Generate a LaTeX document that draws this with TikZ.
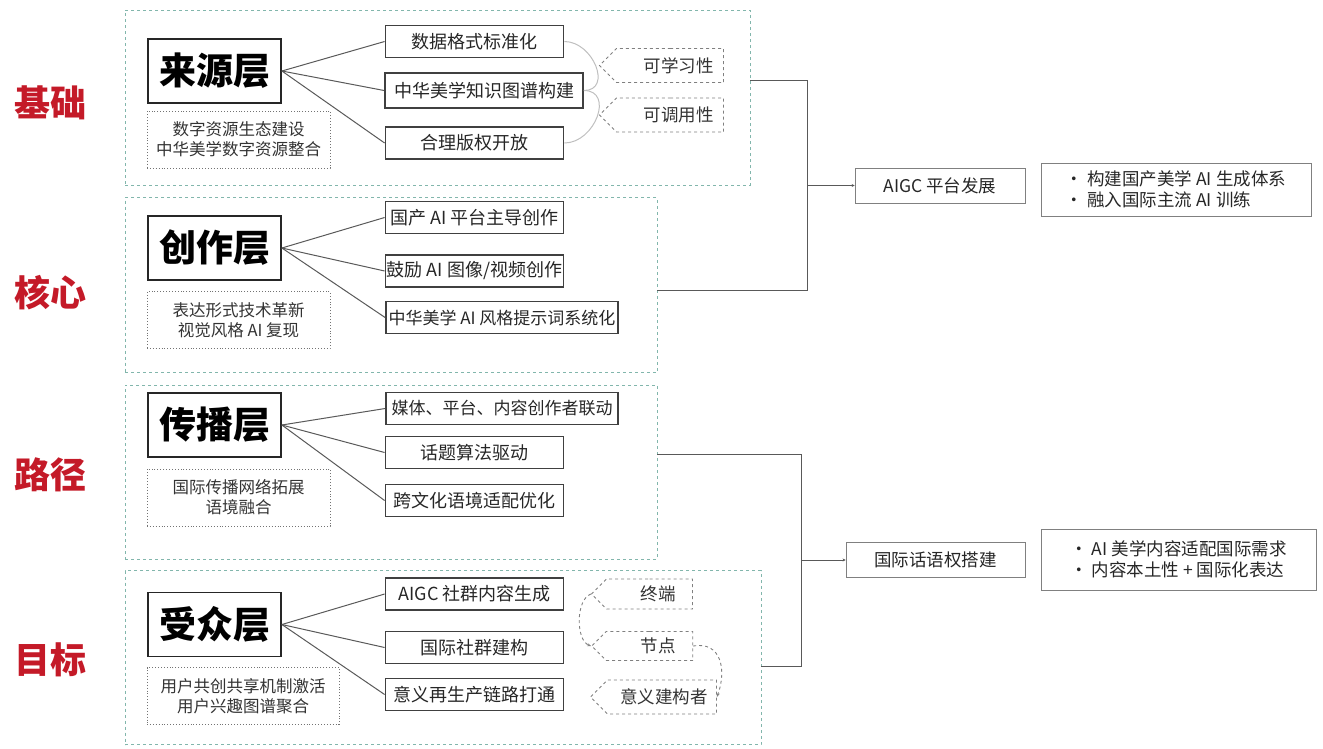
\documentclass[tikz,border=0pt]{standalone}
\usepackage{fontspec}
\setmainfont{Noto Sans CJK SC}
\usetikzlibrary{shapes.symbols,arrows.meta}
\definecolor{labelred}{RGB}{196,26,40}
\definecolor{layerteal}{RGB}{130,182,172}

\begin{document}
\begin{tikzpicture}[x=1pt,y=-1pt,
  layer_node/.style={draw=layerteal,dashed,line width=0.9pt,inner sep=0pt},
  side_node/.style={text=labelred,font=\fontsize{36}{38}\selectfont\bfseries},
  title_node/.style={draw=black!85,line width=1.8pt,minimum width=133,minimum height=64,font=\fontsize{37}{39}\selectfont\bfseries},
  sub_node/.style={draw=black!55,dotted,line width=0.9pt,minimum width=183,minimum height=57,align=center,text=black!80,font=\fontsize{16.5}{20}\selectfont},
  item_node/.style={draw=black!75,line width=1.8pt,minimum width=178,minimum height=32,inner sep=1pt,text=black!85,font=\fontsize{18}{20}\selectfont},
  tag_node/.style={signal,signal to=west,draw=black!50,dashed,line width=0.9pt,minimum height=34,inner sep=2pt,text=black!80,font=\fontsize{17.5}{19}\selectfont},
  res_node/.style={draw=black!50,line width=0.8pt,minimum height=35,align=left,text=black!85,font=\fontsize{17.5}{21}\selectfont},
  link/.style={draw=black!65,line width=1pt},
  arc_line/.style={draw=black!25,line width=1pt}]

\useasboundingbox (0,0) rectangle (1323,748);

\node[side_node] (l1) at (50,103) {基础};
\node[side_node] (l2) at (50,293) {核心};
\node[side_node] (l3) at (50,475) {路径};
\node[side_node] (l4) at (50,660) {目标};

\node[layer_node,minimum width=625,minimum height=175] (c1) at (437.5,97.5) {};
\node[layer_node,minimum width=532,minimum height=175] (c2) at (391,285) {};
\node[layer_node,minimum width=532,minimum height=174] (c3) at (391,472) {};
\node[layer_node,minimum width=636,minimum height=174] (c4) at (443,657.5) {};

\node[title_node] (t1) at (214.5,71) {来源层};
\node[title_node] (t2) at (214.5,248) {创作层};
\node[title_node] (t3) at (214.5,425) {传播层};
\node[title_node] (t4) at (214.5,624.5) {受众层};

\node[sub_node] (s1) at (238.5,139.5) {数字资源生态建设\\中华美学数字资源整合};
\node[sub_node] (s2) at (238.5,320) {表达形式技术革新\\视觉风格 AI 复现};
\node[sub_node] (s3) at (238.5,497.5) {国际传播网络拓展\\语境融合};
\node[sub_node,minimum width=192] (s4) at (243,696) {用户共创共享机制激活\\用户兴趣图谱聚合};

\node[item_node] (i11) at (474.5,41.5) {数据格式标准化};
\node[item_node,minimum width=198,minimum height=35] (i12) at (484,90.5) {中华美学知识图谱构建};
\node[item_node] (i13) at (474.5,143) {合理版权开放};
\node[item_node] (i21) at (474.5,217.5) {国产 AI 平台主导创作};
\node[item_node] (i22) at (474.5,271) {鼓励 AI 图像/视频创作};
\node[item_node,minimum width=232,font=\fontsize{17}{19}\selectfont] (i23) at (502,317.5) {中华美学 AI 风格提示词系统化};
\node[item_node,minimum width=232,font=\fontsize{17}{19}\selectfont] (i31) at (502,408.5) {媒体、平台、内容创作者联动};
\node[item_node] (i32) at (474.5,452.5) {话题算法驱动};
\node[item_node] (i33) at (474.5,500.5) {跨文化语境适配优化};
\node[item_node] (i41) at (474.5,594) {AIGC 社群内容生成};
\node[item_node] (i42) at (474.5,647.5) {国际社群建构};
\node[item_node] (i43) at (474.5,694.5) {意义再生产链路打通};

\node[tag_node,minimum width=124] (g1) at (670,65.5) {\quad 可学习性};
\node[tag_node,minimum width=124] (g2) at (670,115) {\quad 可调用性};
\node[tag_node,minimum width=101,minimum height=30] (g3) at (649.5,594) {\quad 终端};
\node[tag_node,minimum width=101,minimum height=29] (g4) at (649.5,646) {\quad 节点};
\node[tag_node,minimum width=126] (g5) at (662,697) {\ 意义建构者};

\node[res_node,minimum width=170] (r1) at (940,185.5) {AIGC 平台发展};
\node[res_node,minimum width=179] (r2) at (935.5,560) {国际话语权搭建};
\node[res_node,minimum width=270,minimum height=53] (b1) at (1176,189.5) {· 构建国产美学 AI 生成体系\\· 融入国际主流 AI 训练};
\node[res_node,minimum width=275,minimum height=61] (b2) at (1178.5,559.5) {· AI 美学内容适配国际需求\\· 内容本土性 + 国际化表达};

\foreach \t/\i in {t1/i11,t1/i12,t1/i13,t2/i21,t2/i22,t2/i23,t3/i31,t3/i32,t3/i33,t4/i41,t4/i42,t4/i43}
  \draw[link] (\t.east) -- (\i.west);

\draw[arc_line] (i11.east) to[out=0,in=0,looseness=1.4] (i12.east);
\draw[arc_line] (i12.east) to[out=0,in=0,looseness=1.4] (i13.east);
\draw[black!50,dashed,line width=0.9pt,-{Stealth[length=4pt]}] (g3.west) to[out=200,in=160,looseness=0.8] (g4.west);
\draw[black!50,dashed,line width=0.9pt,-{Stealth[length=4pt]}] (g4.east) to[out=10,in=70,looseness=1.3] (g5.east);

\coordinate (j1) at (807,185.5);
\coordinate (j2) at (801,560);
\draw[link] ([yshift=17.5pt]c1.east) -| (j1);
\draw[link] ([yshift=-5pt]c2.east) -| (j1);
\draw[link,-{Stealth[length=3pt,width=3pt]}] (j1) -- (r1.west);
\draw[link] ([yshift=17.5pt]c3.east) -| (j2);
\draw[link] ([yshift=-8.5pt]c4.east) -| (j2);
\draw[link,-{Stealth[length=3pt,width=3pt]}] (j2) -- (r2.west);

\end{tikzpicture}
\end{document}
